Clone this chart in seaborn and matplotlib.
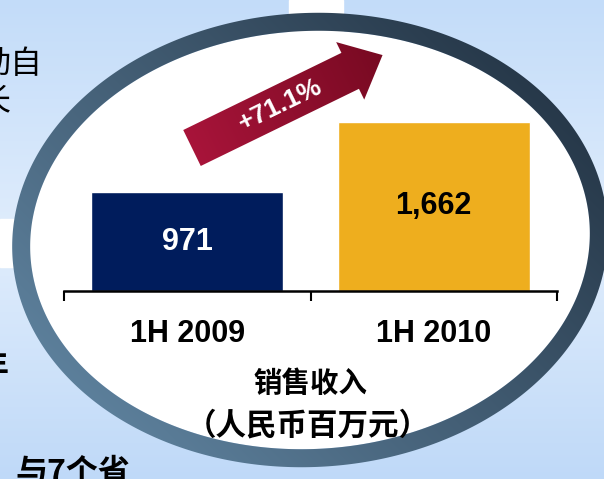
import matplotlib
matplotlib.use('Agg')
import matplotlib.pyplot as plt
import numpy as np
import seaborn as sns
from matplotlib.path import Path
from matplotlib.patches import PathPatch, Rectangle
from matplotlib.colors import to_rgb

# chart data
periods = ['1H 2009', '1H 2010']
sales = [971, 1662]
growth_label = '+71.1%'
bar_colors = ['#001c5c', '#eeae1e']
label_colors = ['white', 'black']
title_lines = ['销售收入', '（人民币百万元）']

W, H = 604, 479

sns.set_theme(style='white')
plt.rcParams['font.family'] = ['Liberation Sans', 'Noto Sans CJK SC', 'DejaVu Sans']
plt.rcParams['text.color'] = 'black'
plt.rcParams['xtick.color'] = 'black'
plt.rcParams['xtick.labelcolor'] = 'black'
CJK = ['Noto Sans CJK SC', 'DejaVu Sans']


def blend(stops, t):
    # stops: list of (pos, color)
    pos = [p for p, _ in stops]
    cols = np.array([to_rgb(c) for _, c in stops])
    return np.stack([np.interp(t, pos, cols[:, i]) for i in range(3)], axis=-1)


def ellipse_pts(cx, cy, a, b, phi, n=500):
    t = np.linspace(0, 2 * np.pi, n)
    ex, ey = a * np.cos(t), b * np.sin(t)
    c, s = np.cos(phi), np.sin(phi)
    return np.column_stack([cx + ex * c + ey * s, cy - ex * s + ey * c])


def closed(pts):
    # Path(closed=True) drops the last vertex, so repeat the first one
    return Path(np.vstack([pts, pts[:1]]), closed=True)


fig = plt.figure(figsize=(W / 100, H / 100), dpi=100)

# slide background in pixel coordinates (y down)
bg = fig.add_axes([0, 0, 1, 1])
bg.set_xlim(0, W)
bg.set_ylim(H, 0)
bg.axis('off')

yy, xx = np.mgrid[0:H, 0:W] + 0.5
back = blend([(0, '#c3dcf9'), (240, '#e0edfc'), (H, '#bfd9f8')], yy)
bg.imshow(back, extent=(0, W, H, 0), aspect='auto', zorder=0)
bg.add_patch(Rectangle((289, 0), 54, 40, color='white', zorder=1))
bg.add_patch(Rectangle((0, 219), 40, 48, color='white', zorder=1))

# slide text cut off at the left edge
bg.text(42, 64, '动自', fontsize=23, family=CJK, ha='right', va='center', zorder=1)
bg.text(10, 103, '长', fontsize=23, family=CJK, ha='right', va='center', zorder=1)
bg.text(9, 368, '年', fontsize=23, family=CJK, weight='bold', ha='right', va='center', zorder=1)
bg.text(15, 457, '与7个省', fontsize=23, family=CJK, weight='bold', ha='left', va='top', zorder=1)

# oval frame
cx, cy, a, b, phi, ring = 310, 240, 298, 227, np.radians(3), 18
outer = ellipse_pts(cx, cy, a, b, phi)
inner = ellipse_pts(cx, cy, a - ring, b - ring, phi)
bg.add_patch(PathPatch(closed(inner), facecolor='white', edgecolor='none', zorder=2))
ring_path = Path.make_compound_path(closed(outer), closed(inner[::-1]))
t_ring = np.clip(((W - xx) + yy) / (W + H), 0, 1)
ring_img = bg.imshow(blend([(0, '#1c2a39'), (1, '#688fad')], t_ring),
                     extent=(0, W, H, 0), aspect='auto', zorder=3)
ring_img.set_clip_path(PathPatch(ring_path, transform=bg.transData))

# growth arrow
tail = np.array([192.0, 148.0])
ang = np.radians(26)
u = np.array([np.cos(ang), -np.sin(ang)])
nrm = np.array([np.sin(ang), np.cos(ang)])
shaft_len, head_len, shaft_hw, head_hw = 176, 36, 20, 32
arrow = np.array([
    tail - shaft_hw * nrm,
    tail + shaft_len * u - shaft_hw * nrm,
    tail + shaft_len * u - head_hw * nrm,
    tail + (shaft_len + head_len) * u,
    tail + shaft_len * u + head_hw * nrm,
    tail + shaft_len * u + shaft_hw * nrm,
    tail + shaft_hw * nrm,
])
s_arrow = np.clip(((xx - tail[0]) * u[0] + (yy - tail[1]) * u[1]) / (shaft_len + head_len), 0, 1)
arrow_img = bg.imshow(blend([(0, '#a8143a'), (1, '#780a22')], s_arrow),
                      extent=(0, W, H, 0), aspect='auto', zorder=4)
arrow_img.set_clip_path(PathPatch(closed(arrow), transform=bg.transData))
mid = tail + 98 * u
bg.text(mid[0], mid[1], growth_label, color='white', fontsize=19, weight='bold',
        rotation=26, rotation_mode='anchor', ha='center', va='center', zorder=5)

# caption under the bars
bg.text(310, 384, title_lines[0], fontsize=20.5, family=CJK, weight='bold',
        ha='center', va='center', zorder=5)
bg.text(308, 425, title_lines[1], fontsize=22, family=CJK, weight='bold',
        ha='center', va='center', zorder=5)

# bar chart
ax = fig.add_axes([64 / W, (H - 291) / H, 493 / W, 200 / H])
sns.barplot(x=periods, y=sales, hue=periods, palette=bar_colors, width=0.78,
            saturation=1, legend=False, ax=ax)
ax.set_facecolor('none')
ax.set_xlim(-0.5, 1.5)
ax.set_ylim(0, 1965)
for i, v in enumerate(sales):
    ax.text(i, v / 2, f'{v:,}', color=label_colors[i], fontsize=22, weight='bold',
            ha='center', va='center')

for side in ['left', 'right', 'top']:
    ax.spines[side].set_visible(False)
ax.spines['bottom'].set_linewidth(1.8)
ax.spines['bottom'].set_color('black')
ax.set_yticks([])
ax.set_xlabel('')
ax.set_ylabel('')
ax.set_xticks([0, 1])
ax.set_xticklabels(periods, fontsize=22, weight='bold')
ax.tick_params(axis='x', which='major', length=0, pad=20)
ax.set_xticks([-0.5, 0.5, 1.5], minor=True)
ax.tick_params(axis='x', which='minor', bottom=True, length=7.5, width=1.5,
               direction='out', color='black')

fig.savefig('out.png', dpi=100)
